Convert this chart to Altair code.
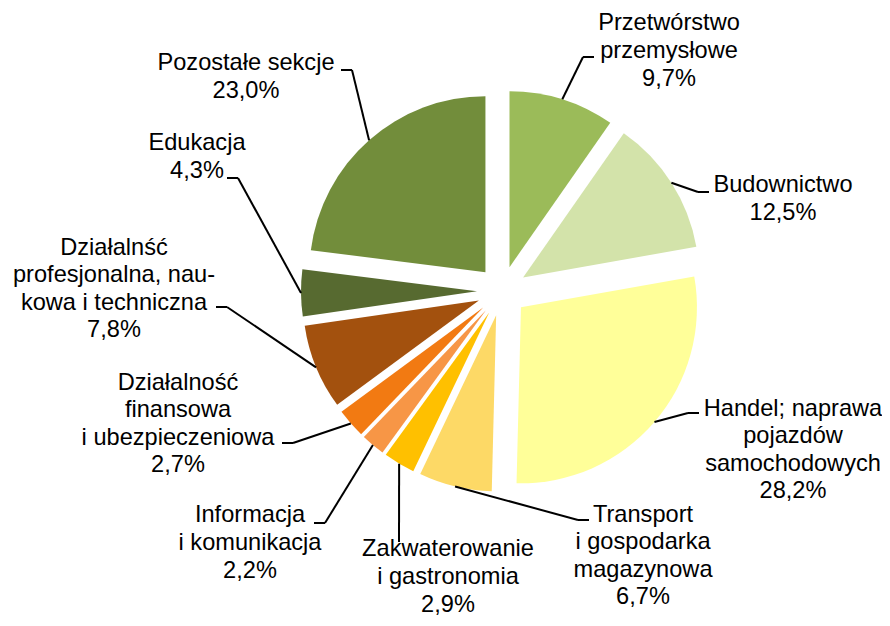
import altair as alt
import pandas as pd

# ---- data -------------------------------------------------------------
categories = [
    "Przetwórstwo\nprzemysłowe",
    "Budownictwo",
    "Handel; naprawa\npojazdów\nsamochodowych",
    "Transport\ni gospodarka\nmagazynowa",
    "Zakwaterowanie\ni gastronomia",
    "Informacja\ni komunikacja",
    "Działalność\nfinansowa\ni ubezpieczeniowa",
    "Działalnść\nprofesjonalna, nau-\nkowa i techniczna",
    "Edukacja",
    "Pozostałe sekcje",
]
shares = [9.7, 12.5, 28.2, 6.7, 2.9, 2.2, 2.7, 7.8, 4.3, 23.0]

# ---- styles -----------------------------------------------------------
colors = ["#9BBB59", "#D3E3AA", "#FFFF99", "#FDD966", "#FFC000",
          "#F79646", "#F27A12", "#A3510E", "#576A30", "#728D3B"]

# ---- label layout (pixel offsets from the pie centre) -----------------
label_dx = [167, 281, 291, 141, -54, -252, -324, -388, -305, -256]
label_dy = [-240, -92, 159, 265, 286, 252, 133, -2, -134, -214]
elbow_dx = [81, 196, 186, 76, -103, -177, -209, -275, -264, -150]
elbow_dy = [-234, -99, 122, 229, 251, 232, 152, 16, -113, -221]
leader_dir = [1, 1, 1, 1, 0, -1, -1, -1, -1, -1]

W, H = 874, 610
CX, CY = 494, 283
R = 176
EXPLODE = 25
FONT = "Liberation Sans"
LINE_H = 27.6

df = pd.DataFrame({
    "order": list(range(len(shares))),
    "name": categories,
    "share": shares,
    "ldx": label_dx,
    "ldy": label_dy,
    "edx": elbow_dx,
    "edy": elbow_dy,
    "dir": leader_dir,
})

base = (
    alt.Chart(df)
    .transform_joinaggregate(total="sum(share)")
    .transform_window(cum="sum(share)", sort=[alt.SortField("order")], frame=[None, 0])
    .transform_calculate(t0="(datum.cum - datum.share) / datum.total * 2 * PI")
    .transform_calculate(t1="datum.cum / datum.total * 2 * PI")
    .transform_calculate(mid="(datum.t0 + datum.t1) / 2")
    .transform_calculate(cx=f"{CX} + {EXPLODE} * sin(datum.mid)")
    .transform_calculate(cy=f"{CY} - {EXPLODE} * cos(datum.mid)")
    .transform_calculate(ax=f"datum.cx + {R} * sin(datum.mid)")
    .transform_calculate(ay=f"datum.cy - {R} * cos(datum.mid)")
    .transform_calculate(ex=f"{CX} + datum.edx")
    .transform_calculate(ey=f"{CY} + datum.edy")
    .transform_calculate(ex2="datum.ex + 11 * datum.dir")
    .transform_calculate(
        lab="datum.name + '\\n' + replace(format(datum.share, '.1f'), '.', ',') + '%'"
    )
    .transform_calculate(nlines="length(split(datum.lab, '\\n'))")
    .transform_calculate(lx=f"{CX} + datum.ldx")
    .transform_calculate(ly=f"{CY} + datum.ldy - (datum.nlines - 1) * {LINE_H} / 2")
)

arcs = base.mark_arc(outerRadius=R).encode(
    theta=alt.Theta("t0:Q", scale=None, stack=None),
    theta2="t1:Q",
    x=alt.X("cx:Q", scale=None, axis=None),
    y=alt.Y("cy:Q", scale=None, axis=None),
    color=alt.Color("name:N", scale=alt.Scale(domain=categories, range=colors), legend=None),
)

lead1 = base.mark_rule(color="black", strokeWidth=2).encode(
    x=alt.X("ax:Q", scale=None, axis=None),
    y=alt.Y("ay:Q", scale=None, axis=None),
    x2="ex:Q",
    y2="ey:Q",
)

lead2 = base.mark_rule(color="black", strokeWidth=2).encode(
    x=alt.X("ex:Q", scale=None, axis=None),
    y=alt.Y("ey:Q", scale=None, axis=None),
    x2="ex2:Q",
    y2="ey:Q",
)

labels = base.mark_text(
    align="center", baseline="middle", fontSize=23.6, font=FONT,
    lineHeight=LINE_H, lineBreak="\n", color="black"
).encode(
    x=alt.X("lx:Q", scale=None, axis=None),
    y=alt.Y("ly:Q", scale=None, axis=None),
    text="lab:N",
)

chart = (
    alt.layer(arcs, lead1, lead2, labels)
    .properties(width=W, height=H, padding=0, autosize=alt.AutoSizeParams(type="none"))
    .configure_view(stroke=None)
)

chart.save("out.html", embed_options={"renderer": "svg", "actions": False})
